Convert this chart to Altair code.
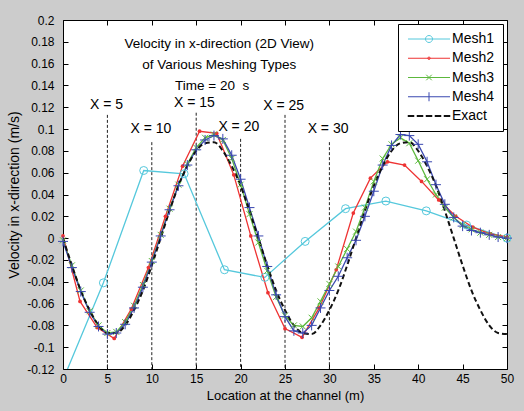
import altair as alt
import pandas as pd

FONT = "Liberation Sans"

# ---------------- data ----------------
series_names = ["Mesh1", "Mesh2", "Mesh3", "Mesh4", "Exact"]
series_colors = ["#55c8dc", "#ee3333", "#5cb83c", "#3a48b0", "#111111"]

x_ticks = [0, 5, 10, 15, 20, 25, 30, 35, 40, 45, 50]
y_ticks = [-0.12, -0.1, -0.08, -0.06, -0.04, -0.02, 0, 0.02, 0.04, 0.06,
           0.08, 0.1, 0.12, 0.14, 0.16, 0.18, 0.2]
x_domain = [0, 50]
y_domain = [-0.12, 0.2]

mesh1_x = [0, 4.55, 9.09, 13.64, 18.18, 22.73, 27.27, 31.82, 36.36, 40.91, 45.45, 50]
mesh1_v = [-0.130, -0.041, 0.062, 0.059, -0.029, -0.036, -0.003, 0.027, 0.034, 0.025, 0.012, 0.000]

mesh2_x = [0, 1.92, 3.85, 5.77, 7.69, 9.62, 11.54, 13.46, 15.38, 17.31, 19.23, 21.15,
           23.08, 25.0, 26.92, 28.85, 30.77, 32.69, 34.62, 36.54, 38.46, 40.38, 42.31,
           44.23, 46.15, 48.08, 50]
mesh2_v = [0.002, -0.058, -0.082, -0.092, -0.065, -0.027, 0.020, 0.066, 0.098, 0.096,
           0.058, 0.002, -0.050, -0.083, -0.091, -0.064, -0.029, 0.023, 0.055, 0.070,
           0.067, 0.052, 0.035, 0.020, 0.010, 0.004, 0.001]

grid_x = [0, 1, 2, 3, 4, 5, 6, 7, 8, 9, 10, 11, 12, 13, 14, 15, 16, 17, 18, 19, 20,
          21, 22, 23, 24, 25, 26, 27, 28, 29, 30, 31, 32, 33, 34, 35, 36, 37, 38, 39,
          40, 41, 42, 43, 44, 45, 46, 47, 48, 49, 50]
mesh3_v = [-0.002, -0.025, -0.048, -0.067, -0.080, -0.087, -0.086, -0.077, -0.062, -0.043,
           -0.021, 0.003, 0.027, 0.049, 0.068, 0.083, 0.092, 0.095, 0.090, 0.073,
           0.049, 0.022, -0.004, -0.030, -0.054, -0.071, -0.080, -0.081, -0.073, -0.058,
           -0.042, -0.026, -0.010, 0.006, 0.028, 0.052, 0.073, 0.086, 0.092, 0.087,
           0.071, 0.054, 0.040, 0.028, 0.019, 0.012, 0.008, 0.005, 0.003, 0.001, 0.000]
mesh4_v = [-0.003, -0.027, -0.049, -0.068, -0.081, -0.088, -0.087, -0.079, -0.064, -0.045,
           -0.022, 0.002, 0.026, 0.048, 0.067, 0.081, 0.090, 0.094, 0.091, 0.076,
           0.054, 0.028, 0.002, -0.026, -0.052, -0.072, -0.085, -0.087, -0.080, -0.064,
           -0.048, -0.035, -0.018, -0.002, 0.020, 0.043, 0.067, 0.085, 0.095, 0.094,
           0.086, 0.070, 0.049, 0.031, 0.019, 0.011, 0.007, 0.005, 0.003, 0.001, 0.000]
exact_v = [0.000, -0.025, -0.048, -0.066, -0.080, -0.087, -0.087, -0.080, -0.066, -0.048,
           -0.025, 0.000, 0.025, 0.048, 0.066, 0.080, 0.087, 0.088, 0.080, 0.066,
           0.048, 0.025, 0.000, -0.025, -0.048, -0.066, -0.080, -0.087, -0.088, -0.080,
           -0.066, -0.048, -0.025, 0.000, 0.025, 0.048, 0.066, 0.080, 0.087, 0.088,
           0.080, 0.066, 0.048, 0.025, 0.000, -0.025, -0.048, -0.066, -0.080, -0.087, -0.088]

station_x = [5, 10, 15, 20, 25, 30]
station_top = [0.113, 0.088, 0.115, 0.091, 0.113, 0.088]
station_labels = ["X = 5", "X = 10", "X = 15", "X = 20", "X = 25", "X = 30"]
station_label_x = [4.9, 9.9, 14.8, 19.8, 24.85, 29.85]
station_label_y = [0.122, 0.100, 0.1235, 0.1015, 0.1215, 0.100]

title_lines = ["Velocity in x-direction (2D View)", "of Various Meshing Types", "Time = 20\u00a0 s"]
title_x = [17.6, 17.6, 16.8]
title_y = [0.178, 0.159, 0.1395]

# legend symbols: line + marker, drawn in symbol units
legend_paths = [
    "M-4.2,0H4.2M-0.7,0A0.7,0.7 0 1,1 0.7,0A0.7,0.7 0 1,1 -0.7,0",
    "M-4.2,0H4.2M-0.25,0A0.25,0.25 0 1,1 0.25,0A0.25,0.25 0 1,1 -0.25,0",
    "M-4.2,0H4.2M-0.55,-0.55L0.55,0.55M-0.55,0.55L0.55,-0.55",
    "M-4.2,0H4.2M0,-0.9V0.9",
    "M-4.2,-0.1H-3V0.1H-4.2ZM-2.4,-0.1H-1.2V0.1H-2.4ZM-0.6,-0.1H0.6V0.1H-0.6Z"
    "M1.2,-0.1H2.4V0.1H1.2ZM3,-0.1H4.2V0.1H3Z",
]

# ---------------- tables ----------------
rows = []
for name, xs_, vs_ in [("Mesh1", mesh1_x, mesh1_v), ("Mesh2", mesh2_x, mesh2_v),
                       ("Mesh3", grid_x, mesh3_v), ("Mesh4", grid_x, mesh4_v),
                       ("Exact", grid_x, exact_v)]:
    for a, b in zip(xs_, vs_):
        rows.append({"x": a, "v": b, "series": name})
curves = pd.DataFrame(rows)
stations = pd.DataFrame({"x": station_x, "top": station_top})
station_text = pd.DataFrame({"x": station_label_x, "y": station_label_y, "t": station_labels})
titles = pd.DataFrame({"x": title_x, "y": title_y, "t": title_lines})
legend_rows = pd.DataFrame({"series": series_names})

W, H = 444, 349
xs = alt.Scale(domain=x_domain, nice=False, zero=False)
ys = alt.Scale(domain=y_domain, nice=False, zero=False)

ax_x_main = alt.Axis(values=x_ticks, ticks=False, tickSize=0, domain=False, grid=False,
                     labelFontSize=12, labelFont=FONT, labelColor="black", labelPadding=4,
                     labelFlush=False, labelOverlap=False,
                     title="Location at the channel (m)", titleFontSize=13, titleFont=FONT,
                     titleFontWeight="normal", titleColor="black", titlePadding=5)
ax_y_main = alt.Axis(values=y_ticks, labelExpr="'' + datum.value", ticks=False, tickSize=0,
                     domain=False, grid=False, labelFontSize=12, labelFont=FONT,
                     labelColor="black", labelPadding=9, labelOverlap=False,
                     title="Velocity in x-direction (m/s)", titleFontSize=14, titleFont=FONT,
                     titleFontWeight="normal", titleColor="black", titlePadding=5)


def tick_axis(orient, offset, values):
    return alt.Axis(orient=orient, offset=offset, values=values, labels=False, domain=False,
                    grid=False, ticks=True, tickSize=5, tickColor="black", tickWidth=1,
                    title=None)


rules = alt.Chart(stations).mark_rule(strokeDash=[3, 2], color="#222222", strokeWidth=1).encode(
    x=alt.X("x:Q", scale=xs, axis=ax_x_main),
    y=alt.Y("top:Q", scale=ys, axis=ax_y_main),
    y2=alt.datum(y_domain[0]),
)

station_labels_layer = alt.Chart(station_text).mark_text(
    font=FONT, fontSize=14, color="black", align="center", baseline="middle"
).encode(
    x=alt.X("x:Q", scale=xs, axis=None),
    y=alt.Y("y:Q", scale=ys, axis=None),
    text="t:N",
)

titles_layer = alt.Chart(titles).mark_text(
    font=FONT, fontSize=13.5, color="black", align="center", baseline="middle"
).encode(
    x=alt.X("x:Q", scale=xs, axis=None),
    y=alt.Y("y:Q", scale=ys, axis=None),
    text="t:N",
)


def line(name, color, first=False):
    axx = tick_axis("top", -H, x_ticks) if first else None
    axy = tick_axis("right", -W, y_ticks) if first else None
    return alt.Chart(curves).transform_filter(
        alt.datum.series == name
    ).mark_line(strokeWidth=1.3, clip=True, color=color).encode(
        x=alt.X("x:Q", scale=xs, axis=axx),
        y=alt.Y("v:Q", scale=ys, axis=axy),
    )


l1 = line("Mesh1", series_colors[0], first=True)
l2 = line("Mesh2", series_colors[1])
l3 = line("Mesh3", series_colors[2])
l4 = line("Mesh4", series_colors[3])

exact_line = alt.Chart(curves).transform_filter(
    alt.datum.series == "Exact"
).mark_line(strokeWidth=2, strokeDash=[5, 3], color="#111111", interpolate="monotone",
            clip=True).encode(
    x=alt.X("x:Q", scale=xs, axis=None),
    y=alt.Y("v:Q", scale=ys, axis=None),
)


def points(name, shape, size, color, filled):
    return alt.Chart(curves).transform_filter(
        (alt.datum.series == name) & (alt.datum.v >= y_domain[0])
    ).mark_point(shape=shape, size=size, color=color, filled=filled, strokeWidth=1,
                 opacity=1).encode(
        x=alt.X("x:Q", scale=xs, axis=None),
        y=alt.Y("v:Q", scale=ys, axis=None),
    )


p1 = points("Mesh1", "circle", 64, series_colors[0], False)
p2 = points("Mesh2", "circle", 14, series_colors[1], True)
p3 = points("Mesh3", "M-1,-1L1,1M-1,1L1,-1", 36, series_colors[2], False)
p4 = points("Mesh4", "M-1,0H1M0,-1V1", 100, series_colors[3], False)

leg = alt.Legend(title=None, orient="top-right", offset=4, padding=8, strokeColor="black",
                 fillColor="white", labelFontSize=14, labelFont=FONT, labelColor="black",
                 symbolSize=100, symbolOffset=16, labelOffset=16, rowPadding=5.25,
                 symbolStrokeWidth=1, symbolOpacity=1, cornerRadius=0)

# legend-only layer: invisible dummy points; the legend comes from the explicit scale domains
legend_layer = alt.Chart(legend_rows).mark_point(filled=False, opacity=0).encode(
    x=alt.X("series:N", axis=None, scale=alt.Scale(domain=series_names)),
    color=alt.Color("series:N", scale=alt.Scale(domain=series_names, range=series_colors),
                    legend=leg),
    shape=alt.Shape("series:N", scale=alt.Scale(domain=series_names, range=legend_paths),
                    legend=leg),
)

ticks_layer = alt.Chart(curves).transform_filter("false").mark_point(opacity=0).encode(
    x=alt.X("x:Q", scale=xs, axis=tick_axis("bottom", -H, x_ticks)),
    y=alt.Y("v:Q", scale=ys, axis=tick_axis("left", -W, y_ticks)),
)

chart = alt.layer(
    rules, station_labels_layer, titles_layer, l1, l2, l3, l4, exact_line, p1, p2, p3, p4,
    ticks_layer, legend_layer,
).resolve_axis(x="independent", y="independent").resolve_scale(x="independent").properties(
    width=W, height=H,
    autosize=alt.AutoSizeParams(type="none"),
    padding={"left": 63, "top": 20, "right": 17, "bottom": 42},
    background="#cccccc",
).configure_view(fill="white", stroke="black", strokeWidth=1)

chart.save("out.html", embed_options={"renderer": "svg", "actions": False})
